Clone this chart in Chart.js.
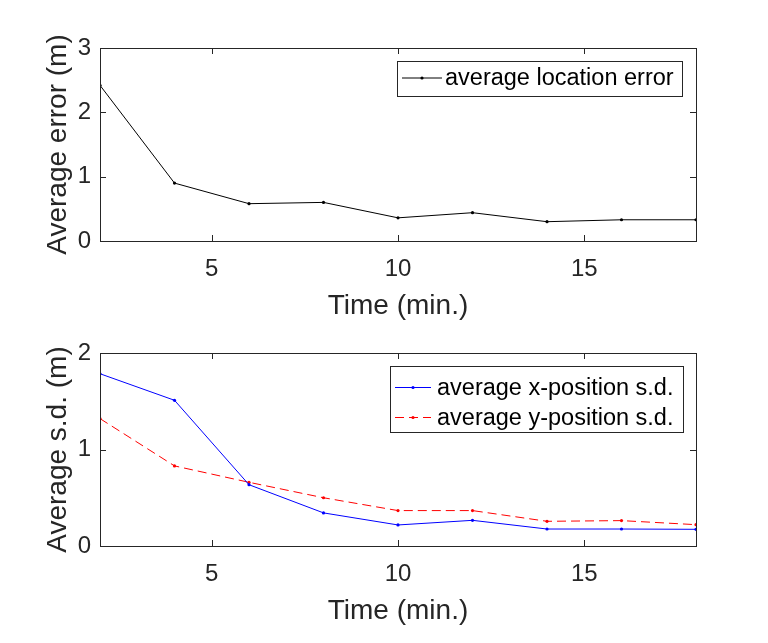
<!DOCTYPE html>
<html>
<head>
<meta charset="utf-8">
<script src="https://cdn.jsdelivr.net/npm/chart.js@4.4.1/dist/chart.umd.min.js"></script>
<style>
  body { margin: 0; background: #fff; }
  #wrap { position: relative; width: 768px; height: 643px; overflow: hidden; }
  .plot { position: absolute; left: 0; width: 768px; height: 321px; }
</style>
</head>
<body>
<div id="wrap">
  <div class="plot" style="top:0"><canvas id="errChart" width="768" height="321"></canvas></div>
  <div class="plot" style="top:305px"><canvas id="sdChart" width="768" height="321"></canvas></div>
</div>
<script>
// data
const timeMin = [2, 4, 6, 8, 10, 12, 14, 16, 18];
const avgLocationError = [2.42, 0.90, 0.58, 0.60, 0.36, 0.44, 0.30, 0.33, 0.33];
const avgXSd = [1.785, 1.51, 0.635, 0.343, 0.218, 0.266, 0.176, 0.176, 0.173];
const avgYSd = [1.32, 0.83, 0.66, 0.50, 0.367, 0.367, 0.256, 0.263, 0.221];
const timeTicks = [5, 10, 15];
const errTicks = [0, 1, 2, 3];
const sdTicks = [0, 1, 2];

const axisColor = "#262626";
const fontFamily = "'Liberation Sans', Arial, sans-serif";

function toPoints(values) {
  return values.map((v, i) => ({ x: timeMin[i], y: v }));
}

// box + inward ticks on all four sides, like matlab axes
const boxPlugin = {
  id: "box",
  afterDraw(chart) {
    const { ctx, chartArea: a } = chart;
    const xs = chart.scales.x, ys = chart.scales.y;
    const len = 6;
    ctx.save();
    ctx.strokeStyle = axisColor;
    ctx.lineWidth = 1;
    ctx.beginPath();
    xs.ticks.forEach(t => {
      const px = Math.round(xs.getPixelForValue(t.value)) + 0.5;
      ctx.moveTo(px, a.bottom); ctx.lineTo(px, a.bottom - len);
      ctx.moveTo(px, a.top); ctx.lineTo(px, a.top + len);
    });
    ys.ticks.forEach(t => {
      const py = Math.round(ys.getPixelForValue(t.value)) + 0.5;
      ctx.moveTo(a.left, py); ctx.lineTo(a.left + len, py);
      ctx.moveTo(a.right, py); ctx.lineTo(a.right - len, py);
    });
    ctx.stroke();
    ctx.strokeRect(Math.round(a.left) + 0.5, Math.round(a.top) + 0.5,
      Math.round(a.right - a.left), Math.round(a.bottom - a.top));
    ctx.restore();
  }
};

// legend box inside the axes, top right
const boxLegendPlugin = {
  id: "boxLegend",
  afterDraw(chart, args, opts) {
    const { ctx } = chart;
    const sets = chart.data.datasets;
    const rowH = 30;
    const x0 = opts.left, y0 = opts.top;
    const w = opts.width, h = opts.height;
    ctx.save();
    ctx.fillStyle = "#fff";
    ctx.fillRect(x0, y0, w, h);
    ctx.strokeStyle = axisColor;
    ctx.lineWidth = 1;
    ctx.strokeRect(x0 + 0.5, y0 + 0.5, w, h);
    ctx.font = "23.5px " + fontFamily;
    ctx.textBaseline = "middle";
    sets.forEach((ds, i) => {
      const cy = y0 + opts.firstRow + i * rowH;
      ctx.strokeStyle = ds.borderColor;
      ctx.setLineDash(ds.borderDash || []);
      ctx.beginPath();
      ctx.moveTo(x0 + 5, cy);
      ctx.lineTo(x0 + 5 + opts.sample, cy);
      ctx.stroke();
      ctx.setLineDash([]);
      ctx.fillStyle = ds.borderColor;
      ctx.beginPath();
      ctx.arc(x0 + 5 + opts.sample / 2, cy, 1.6, 0, Math.PI * 2);
      ctx.fill();
      ctx.fillStyle = "#000";
      ctx.fillText(ds.label, x0 + 5 + opts.sample + opts.gap, cy + 1);
    });
    ctx.restore();
  }
};

function makeOptions(yTitle, yMax, yTickVals, legend) {
  return {
    responsive: false,
    animation: false,
    devicePixelRatio: 1,
    layout: { padding: { top: 48, right: 72, left: 0, bottom: 0 } },
    plugins: {
      legend: { display: false },
      tooltip: { enabled: false },
      boxLegend: legend,
    },
    scales: {
      x: {
        type: "linear",
        min: 2,
        max: 18,
        afterBuildTicks: s => { s.ticks = timeTicks.map(v => ({ value: v })); },
        afterFit: s => { s.height = 80; },
        grid: { display: false, drawTicks: false },
        border: { display: false },
        ticks: { color: axisColor, font: { size: 24, family: fontFamily }, padding: 14 },
        title: {
          display: true, text: "Time (min.)", color: axisColor,
          font: { size: 28, family: fontFamily, lineHeight: 1 }, padding: { top: 0, bottom: 1 },
        },
      },
      y: {
        min: 0,
        max: yMax,
        afterBuildTicks: s => { s.ticks = yTickVals.map(v => ({ value: v })); },
        afterFit: s => { s.width = 100; },
        grid: { display: false, drawTicks: false },
        border: { display: false },
        ticks: { color: axisColor, font: { size: 24, family: fontFamily }, padding: 9 },
        title: {
          display: true, text: yTitle, color: axisColor,
          font: { size: 28, family: fontFamily, lineHeight: 1 }, padding: { top: 44, bottom: 0 },
        },
      },
    },
  };
}

new Chart(document.getElementById("errChart"), {
  type: "line",
  data: {
    datasets: [{
      label: "average location error",
      data: toPoints(avgLocationError),
      borderColor: "#000000",
      backgroundColor: "#000000",
      borderWidth: 1,
      pointRadius: 1.6,
      pointBorderWidth: 0,
      tension: 0,
    }],
  },
  options: makeOptions("Average error (m)", 3, errTicks,
    { left: 397, top: 61, width: 285, height: 35, firstRow: 17, sample: 40, gap: 3 }),
  plugins: [boxPlugin, boxLegendPlugin],
});

new Chart(document.getElementById("sdChart"), {
  type: "line",
  data: {
    datasets: [{
      label: "average x-position s.d.",
      data: toPoints(avgXSd),
      borderColor: "#0000ff",
      backgroundColor: "#0000ff",
      borderWidth: 1,
      pointRadius: 1.6,
      pointBorderWidth: 0,
      tension: 0,
    }, {
      label: "average y-position s.d.",
      data: toPoints(avgYSd),
      borderColor: "#ff0000",
      backgroundColor: "#ff0000",
      borderWidth: 1,
      borderDash: [9, 5],
      pointRadius: 1.6,
      pointBorderWidth: 0,
      tension: 0,
    }],
  },
  options: makeOptions("Average s.d. (m)", 2, sdTicks,
    { left: 390, top: 61, width: 293, height: 66, firstRow: 21.5, sample: 36, gap: 6 }),
  plugins: [boxPlugin, boxLegendPlugin],
});
</script>
</body>
</html>
